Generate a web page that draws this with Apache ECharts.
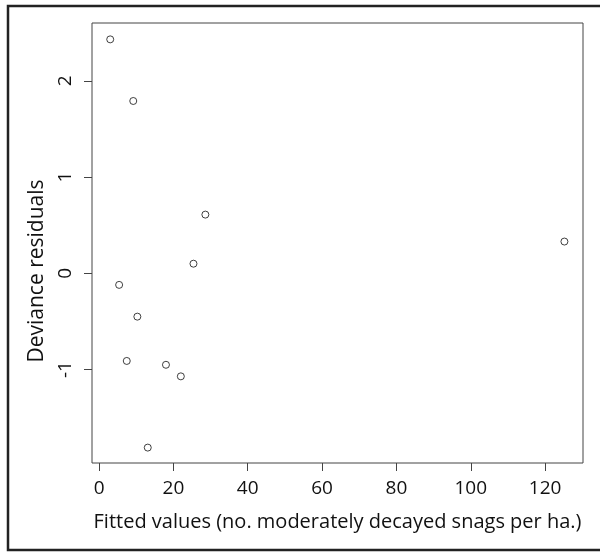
<!DOCTYPE html>
<html>
<head>
<meta charset="utf-8">
<script src="https://cdn.jsdelivr.net/npm/echarts@6/dist/echarts.min.js"></script>
<style>
  html, body { margin: 0; padding: 0; background: #fff; }
  #chart { width: 600px; height: 553px; }
</style>
</head>
<body>
<div id="chart"></div>
<script>
// ------------------------------------------------------- //
// Data: fitted values vs deviance residuals
// ------------------------------------------------------ //
var fittedValues = [3.0, 9.2, 25.4, 5.4, 10.3, 7.45, 18.0, 22.0, 13.1, 28.6, 125.2];
var devResiduals = [2.43, 1.79, 0.10, -0.12, -0.45, -0.91, -0.95, -1.07, -1.81, 0.61, 0.33];
var xTicks = [0, 20, 40, 60, 80, 100, 120];
var yTicks = [-1, 0, 1, 2];

var points = fittedValues.map(function (v, i) { return [v, devResiduals[i]]; });

var font = '"Open Sans", "Noto Sans", sans-serif';
var chart = echarts.init(document.getElementById('chart'));
var option = {
    animation: false,
    backgroundColor: '#fff',
    graphic: [{
        type: 'rect',
        shape: { x: 8, y: 6, width: 640, height: 544 },
        style: { fill: 'none', stroke: '#222', lineWidth: 2.5 },
        silent: true
    }],
    grid: {
        left: 92, top: 23, right: 17, bottom: 90,
        show: true, borderColor: '#444', borderWidth: 1
    },
    xAxis: {
        type: 'value',
        min: -1.9, max: 130.2,
        name: 'Fitted values (no. moderately decayed snags per ha.)',
        nameLocation: 'middle',
        nameGap: 49,
        nameTextStyle: { fontFamily: font, fontSize: 20, color: '#111' },
        axisLine: { show: false, onZero: false },
        axisTick: { show: true, length: 8, customValues: xTicks, lineStyle: { color: '#444' } },
        axisLabel: { customValues: xTicks, margin: 16, fontFamily: font, fontSize: 19, color: '#111' },
        splitLine: { show: false }
    },
    yAxis: {
        type: 'value',
        min: -1.97, max: 2.60,
        name: 'Deviance residuals',
        nameLocation: 'middle',
        nameGap: 44,
        nameRotate: 90,
        nameTextStyle: { fontFamily: font, fontSize: 21, color: '#111', padding: [0, 56, 0, 0] },
        axisLine: { show: false, onZero: false },
        axisTick: { show: true, length: 8, customValues: yTicks, lineStyle: { color: '#444' } },
        axisLabel: { customValues: yTicks, rotate: 90, margin: 17, fontFamily: font, fontSize: 19, color: '#111' },
        splitLine: { show: false }
    },
    series: [{
        type: 'scatter',
        data: points,
        symbol: 'circle',
        symbolSize: 7,
        itemStyle: { color: '#fff', borderColor: '#111', borderWidth: 1 }
    }]
};
chart.setOption(option);
</script>
</body>
</html>
